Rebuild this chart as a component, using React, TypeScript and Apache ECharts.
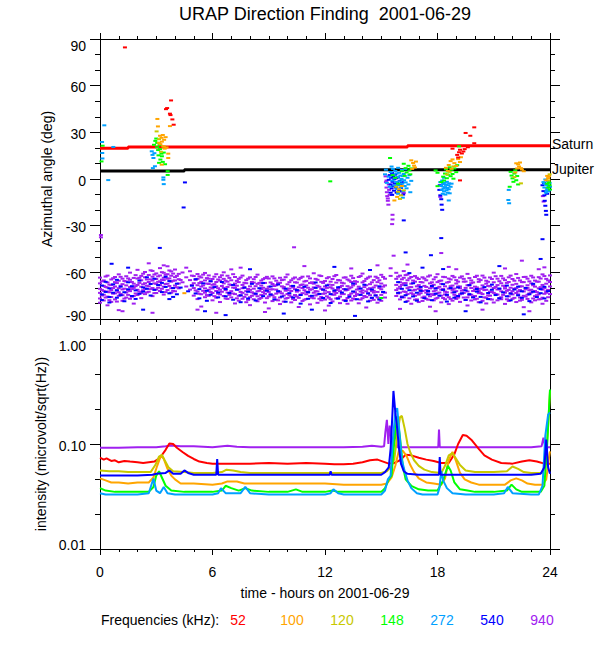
import React, { useEffect, useRef } from "react";
import * as echarts from "echarts";

const FONT = '"Liberation Sans", Arial, Helvetica, sans-serif';

const titleText = "URAP Direction Finding  2001-06-29";
const xName = "time - hours on 2001-06-29";
const yNameTop = "Azimuthal angle (deg)";
const yNameBottom = "intensity (microvolt/sqrt(Hz))";
const freqLabels = ["52", "100", "120", "148", "272", "540", "940"];
const freqColors = ["#ff0000", "#ffa500", "#c8c800", "#00ff00", "#00a0ff", "#0000ff", "#a020f0"];

// Saturn / Jupiter direction (deg)
const saturn = [[0, 19.8], [1.5, 19.8], [1.5, 20.5], [16.4, 20.5], [16.4, 21.3], [24, 21.3]];
const jupiter = [[0, 5.1], [4.5, 5.1], [4.5, 5.9], [24, 5.9]];

// purple (940 kHz) band rows: [hour, angles...]
const bandPurple = [
  [0.0, -63.4, -67.1, -70.6, -73.2, -76.8, -79.5],
  [0.2, -65.2, -68.7, -71.9, -74.4, -78.1],
  [0.4, -62.1, -66.5, -69.8, -72.3, -75.6, -81.2],
  [0.6, -64.6, -68.2, -71.4, -75.9, -79.0],
  [0.8, -63.0, -66.3, -69.1, -73.5, -77.4],
  [1.0, -61.3, -65.4, -70.2, -72.8, -75.1, -84.3],
  [1.2, -64.1, -67.6, -71.0, -74.7, -78.3],
  [1.4, -62.5, -65.9, -68.4, -73.0, -76.2],
  [1.6, -60.2, -64.8, -69.5, -72.1, -77.0],
  [1.8, -63.6, -67.3, -70.0, -75.2, -80.1],
  [2.0, -58.4, -64.0, -68.1, -71.2, -74.6],
  [2.2, -62.3, -65.1, -69.3, -73.4, -76.6],
  [2.4, -59.8, -63.2, -67.0, -70.4, -74.0],
  [2.6, -54.2, -61.7, -66.2, -69.0, -72.5],
  [2.8, -59.1, -62.8, -65.3, -70.1, -75.3],
  [3.0, -60.7, -64.3, -67.4, -71.0, -73.3],
  [3.2, -57.3, -62.0, -65.8, -68.2, -72.0],
  [3.4, -60.3, -63.5, -65.0, -69.2, -74.3],
  [3.6, -56.1, -61.2, -64.1, -67.3, -71.4],
  [3.8, -59.4, -62.2, -66.0, -70.2, -73.1],
  [4.0, -58.2, -63.1, -65.2, -68.5, -72.2],
  [4.2, -61.0, -64.4, -67.2, -70.3],
  [4.4, -60.1, -66.4],
  [4.6, -63.2, -69.1],
  [4.8, -59.3, -65.0, -71.1],
  [5.0, -62.4, -67.0, -70.1, -75.0],
  [5.2, -61.1, -64.2, -68.3, -72.4, -77.2],
  [5.4, -63.3, -66.1, -69.2, -74.1, -82.0],
  [5.6, -60.4, -65.2, -70.3, -73.1, -76.0],
  [5.8, -62.0, -64.1, -67.5, -71.2, -75.1],
  [6.0, -64.3, -68.0, -70.4, -73.3, -78.0],
  [6.2, -61.2, -66.2, -69.0, -72.0, -76.3],
  [6.4, -63.1, -65.3, -71.2, -74.2, -79.1],
  [6.6, -60.0, -64.2, -67.1, -70.0, -75.2],
  [6.8, -62.2, -66.0, -69.4, -73.0, -77.1],
  [7.0, -58.1, -65.1, -68.2, -72.1, -76.1],
  [7.2, -63.0, -67.2, -70.0, -74.0, -80.0],
  [7.4, -64.2, -66.3, -71.0, -75.1, -78.2],
  [7.6, -62.1, -68.1, -70.2, -73.2, -77.0],
  [7.8, -65.0, -67.0, -72.1, -74.3, -79.2],
  [8.0, -63.2, -69.0, -71.3, -76.0, -81.1],
  [8.2, -64.4, -66.6, -70.5, -73.6, -77.3],
  [8.4, -61.5, -67.4, -72.2, -75.4, -78.6],
  [8.6, -65.3, -68.5, -70.7, -74.5, -76.4],
  [8.8, -63.7, -66.8, -71.6, -73.8, -79.4],
  [9.0, -64.0, -69.3, -72.6, -75.5, -83.2],
  [9.2, -62.6, -67.5, -70.9, -74.8, -78.5],
  [9.4, -65.4, -68.3, -71.1, -73.7, -77.6],
  [9.6, -63.5, -66.7, -72.4, -76.2, -80.4],
  [9.8, -64.7, -69.4, -70.3, -74.9, -78.8],
  [10.0, -61.4, -67.7, -71.5, -73.9, -76.5],
  [10.2, -65.1, -68.8, -72.0, -75.7, -79.3],
  [10.4, -63.3, -66.4, -70.8, -74.6, -77.8],
  [10.6, -64.5, -69.6, -71.7, -76.4, -82.3],
  [10.8, -62.8, -67.8, -70.1, -73.4, -78.4],
  [11.0, -65.5, -68.4, -72.5, -74.1, -77.2],
  [11.2, -63.9, -66.9, -71.2, -75.3, -80.6],
  [11.4, -60.6, -67.3, -69.7, -73.1, -76.7],
  [11.6, -64.8, -68.6, -72.3, -74.2, -79.6],
  [11.8, -62.4, -66.1, -70.6, -75.8, -78.0],
  [12.0, -65.6, -69.1, -71.8, -73.5, -77.5],
  [12.2, -63.1, -67.9, -72.7, -76.3, -81.4],
  [12.4, -64.3, -68.1, -70.4, -74.3, -78.7],
  [12.6, -61.7, -66.6, -71.4, -73.3, -76.8],
  [12.8, -65.2, -69.5, -72.1, -75.6, -79.8],
  [13.0, -63.4, -67.1, -70.7, -74.0, -77.9],
  [13.2, -64.6, -68.9, -71.3, -76.5, -80.2],
  [13.4, -62.2, -66.2, -69.6, -73.6, -78.1],
  [13.6, -65.7, -67.4, -72.8, -75.2, -77.3],
  [13.8, -63.0, -69.2, -70.5, -74.4, -79.9],
  [14.0, -60.8, -66.5, -71.6, -73.2, -76.6],
  [14.2, -64.2, -68.3, -72.2, -75.9, -82.6],
  [14.4, -62.7, -67.6, -70.2, -74.7, -78.2],
  [14.6, -65.0, -69.7, -71.9, -73.0, -77.7],
  [14.8, -63.6, -66.3, -72.6, -76.1, -79.5],
  [15.0, -61.6, -67.2, -70.9, -74.5, -78.3],
  [15.2, -64.1, -68.4, -73.1, -76.2],
  [15.5, -57.4, -62.3],
  [15.8, -60.3, -64.2, -68.1, -71.4, -75.2],
  [16.0, -62.1, -66.4, -69.3, -73.0, -77.4],
  [16.2, -59.2, -63.5, -67.0, -72.3, -76.1],
  [16.4, -61.4, -65.1, -70.2, -74.0, -78.5],
  [16.6, -63.0, -67.3, -69.5, -73.4, -80.2],
  [16.8, -62.4, -66.0, -71.2, -75.1, -77.6],
  [17.0, -64.3, -68.2, -70.6, -74.3, -79.1],
  [17.2, -63.2, -66.5, -72.0, -76.2, -78.4],
  [17.4, -65.1, -69.4, -71.5, -73.1, -77.0],
  [17.6, -62.0, -67.1, -70.3, -75.4, -82.1],
  [17.8, -64.5, -68.0, -72.2, -74.6, -78.0],
  [18.0, -61.2, -66.3, -70.0, -73.5, -76.4],
  [18.2, -65.3, -67.4, -71.1, -75.0, -79.3],
  [18.4, -63.1, -69.0, -72.4, -74.2, -77.3],
  [18.6, -64.0, -66.2, -70.5, -76.0, -80.4],
  [18.8, -62.3, -68.5, -71.3, -73.0, -78.2],
  [19.0, -65.0, -67.2, -72.1, -75.3, -77.1],
  [19.2, -63.4, -69.1, -70.2, -74.1, -79.0],
  [19.4, -64.2, -66.0, -71.4, -73.3, -76.2],
  [19.6, -61.0, -68.3, -72.3, -76.1, -81.3],
  [19.8, -65.2, -67.0, -70.1, -74.4, -78.1],
  [20.0, -63.0, -69.2, -71.0, -75.2, -77.4],
  [20.2, -64.4, -66.1, -72.0, -73.4, -79.2],
  [20.4, -62.1, -68.4, -70.3, -74.0, -78.3],
  [20.6, -65.4, -67.3, -71.2, -76.3, -80.0],
  [20.8, -63.3, -69.0, -72.4, -75.0, -77.2],
  [21.0, -60.2, -66.4, -70.1, -73.2, -79.4],
  [21.2, -64.1, -68.2, -71.0, -74.3, -78.0],
  [21.4, -62.3, -67.0, -72.2, -76.0, -77.3],
  [21.6, -65.0, -69.3, -70.4, -73.1, -80.3],
  [21.8, -63.2, -66.2, -71.3, -75.4, -78.4],
  [22.0, -64.3, -68.0, -72.1, -74.2, -77.0],
  [22.2, -61.1, -67.4, -70.2, -73.3, -79.1],
  [22.4, -65.2, -69.1, -71.4, -76.2, -78.2],
  [22.6, -63.0, -66.3, -72.3, -75.1, -82.4],
  [22.8, -64.1, -68.3, -70.0, -74.4, -77.1],
  [23.0, -62.2, -67.1, -71.2, -73.0, -79.3],
  [23.2, -65.3, -69.2, -72.0, -75.3, -78.0],
  [23.4, -63.1, -66.0, -70.3, -74.1, -77.4],
  [23.6, -61.3, -68.1, -71.1, -76.3, -80.2],
  [23.8, -64.2, -67.3, -72.2, -73.1, -78.3],
  [24.0, -62.0, -66.2, -69.1, -74.0],
];

// additional purple band rows, between the ones above
const bandPurpleMid = [
  [0.1, -65.8, -71.3, -74.9], [0.3, -62.7, -69.4, -76.2], [0.5, -67.9, -72.8, -77.9], [0.7, -63.8, -70.1, -73.7],
  [0.9, -66.9, -71.8, -78.8], [1.1, -62.9, -68.6, -73.9], [1.3, -65.6, -70.5, -76.9], [1.5, -63.9, -71.7, -74.5],
  [1.7, -66.2, -70.8, -75.7], [1.9, -61.8, -68.9, -73.6], [2.1, -63.5, -66.8, -72.4], [2.3, -60.9, -67.7, -71.5],
  [2.5, -64.6, -68.6, -72.9], [2.7, -58.7, -64.5, -70.8], [2.9, -61.4, -67.1, -73.4], [3.1, -62.6, -66.1, -69.9],
  [3.3, -59.9, -64.7, -70.6], [3.5, -61.6, -67.5, -72.7], [3.7, -58.8, -63.9, -68.8], [3.9, -60.8, -65.4, -71.9],
  [4.1, -62.3, -69.6], [4.3, -64.9], [4.9, -62.1, -68.2], [5.1, -64.8, -71.6],
  [5.3, -62.6, -66.9, -73.8], [5.5, -61.5, -68.4, -71.9], [5.7, -63.7, -67.2, -74.6], [5.9, -65.8, -69.7, -72.6],
  [6.1, -62.8, -67.6, -75.3], [6.3, -64.6, -70.2, -73.7], [6.5, -61.9, -68.8, -72.5], [6.7, -65.4, -71.4, -76.8],
  [6.9, -63.6, -67.8, -74.5], [7.1, -61.2, -69.8, -73.6], [7.3, -65.5, -68.6, -76.7], [7.5, -63.3, -72.6, -74.8],
  [7.7, -66.7, -69.5, -75.8], [7.9, -64.1, -70.7, -77.7], [8.1, -66.2, -72.8, -75.1], [8.3, -63.0, -68.9, -74.2],
  [8.5, -66.8, -71.9, -77.1], [8.7, -64.4, -69.9, -72.7], [8.9, -62.9, -70.6, -76.6], [9.1, -66.5, -71.0, -74.1],
  [9.3, -63.9, -68.8, -76.0], [9.5, -66.9, -72.9, -78.0], [9.7, -65.0, -69.0, -73.5], [9.9, -63.1, -71.8, -76.9],
  [10.1, -66.3, -70.4, -74.8], [10.3, -64.0, -69.7, -77.2], [10.5, -66.6, -72.4, -75.5], [10.7, -63.6, -68.2, -74.3],
  [10.9, -65.9, -71.5, -77.6], [11.1, -62.6, -69.9, -73.0], [11.3, -66.4, -70.9, -76.3], [11.5, -64.2, -72.1, -74.9],
  [11.7, -62.0, -69.3, -77.0], [11.9, -66.8, -71.2, -73.8], [12.1, -63.8, -70.0, -75.4], [12.3, -66.0, -69.6, -77.3],
  [12.5, -62.5, -72.5, -74.4], [12.7, -64.9, -70.6, -76.5], [12.9, -66.7, -68.7, -73.9], [13.1, -63.2, -71.6, -77.8],
  [13.3, -65.3, -70.3, -74.6], [13.5, -63.7, -68.4, -76.8], [13.7, -66.1, -71.1, -74.0], [13.9, -62.4, -72.3, -77.5],
  [14.1, -65.6, -69.5, -75.2], [14.3, -63.4, -70.8, -73.4], [14.5, -66.4, -72.0, -76.4], [14.7, -62.8, -68.5, -74.7],
  [14.9, -65.1, -70.1, -77.2], [15.1, -63.0, -69.2, -72.8], [15.9, -62.8, -70.4, -73.6], [16.1, -64.5, -68.1, -75.5],
  [16.3, -61.8, -66.9, -72.6], [16.5, -63.9, -69.6, -76.7], [16.7, -65.3, -71.7, -74.1], [16.9, -63.5, -69.0, -77.4],
  [17.1, -66.2, -70.9, -73.4], [17.3, -64.0, -68.7, -75.6], [17.5, -62.7, -72.5, -77.6], [17.7, -66.4, -69.8, -74.0],
  [17.9, -63.1, -71.6, -76.9], [18.1, -65.5, -69.3, -73.0], [18.3, -62.9, -70.7, -76.5], [18.5, -66.6, -72.8, -74.9],
  [18.7, -64.6, -68.9, -77.1], [18.9, -63.2, -70.4, -74.4], [19.1, -66.0, -69.1, -76.2], [19.3, -62.6, -71.8, -73.7],
  [19.5, -65.9, -70.0, -77.8], [19.7, -63.7, -68.4, -74.6], [19.9, -66.5, -72.0, -75.9], [20.1, -62.2, -69.7, -77.0],
  [20.3, -65.0, -70.6, -73.2], [20.5, -63.4, -71.4, -76.1], [20.7, -66.1, -68.8, -74.8], [20.9, -64.3, -72.6, -77.5],
  [21.1, -62.5, -69.4, -73.9], [21.3, -65.7, -70.8, -76.6], [21.5, -63.9, -68.6, -74.5], [21.7, -66.8, -71.9, -77.3],
  [21.9, -62.1, -69.9, -73.3], [22.1, -65.4, -70.5, -76.4], [22.3, -63.6, -72.2, -74.2], [22.5, -66.3, -69.0, -77.7],
  [22.7, -62.9, -70.9, -75.6], [22.9, -65.8, -71.5, -73.6], [23.1, -63.3, -68.3, -76.8], [23.3, -66.0, -72.7, -74.7],
  [23.5, -64.0, -69.5, -77.2], [23.7, -62.4, -70.2, -73.8], [23.9, -65.2, -71.3, -76.0],
];

// blue (540 kHz) band rows
const bandBlue = [
  [0.1, -68.5, -74.2, -77.8], [0.3, -66.1, -72.6], [0.5, -70.3, -75.9, -79.4], [0.7, -67.7, -73.1],
  [0.9, -64.8, -71.5, -76.3], [1.1, -69.2, -74.7], [1.3, -72.8, -78.6], [1.5, -66.4, -70.9],
  [1.7, -68.9, -75.2], [1.9, -71.6, -77.1], [2.1, -65.3, -73.8], [2.3, -69.7, -72.4],
  [2.5, -63.2, -70.6], [2.7, -67.5, -74.9], [2.9, -64.1, -71.3], [3.1, -68.2],
  [3.3, -66.8, -72.7], [3.5, -62.9, -69.4], [3.7, -65.6, -73.5, -77.2], [3.9, -70.1, -75.8],
  [4.1, -67.3, -74.1], [4.3, -69.8], [4.7, -72.2], [4.9, -68.6],
  [5.1, -64.4, -73.6], [5.3, -70.8, -76.7], [5.5, -67.1], [5.7, -71.9, -78.3],
  [5.9, -65.7, -74.4], [6.1, -69.5], [6.3, -72.9, -76.1], [6.5, -66.2],
  [6.7, -70.7, -75.4], [6.9, -73.3], [7.1, -68.1, -77.6], [7.3, -71.2],
  [7.5, -74.8, -79.2], [7.7, -69.9], [7.9, -72.5, -76.8], [8.1, -67.4],
  [8.3, -73.7, -78.1], [8.5, -70.2], [8.7, -75.3, -66.9], [8.9, -71.8],
  [9.1, -74.3, -69.1], [9.3, -77.4], [9.5, -72.1, -67.8], [9.7, -75.6],
  [9.9, -70.5, -78.9], [10.1, -73.4], [10.3, -68.7, -76.2], [10.5, -71.4],
  [10.7, -74.6, -80.1], [10.9, -69.3], [11.1, -72.7, -77.0], [11.3, -75.1],
  [11.5, -70.0, -66.5], [11.7, -73.9], [11.9, -76.5, -71.1], [12.1, -68.4],
  [12.3, -74.0, -79.7], [12.5, -71.7], [12.7, -76.9, -69.6], [12.9, -73.0],
  [13.1, -70.9, -78.4], [13.3, -75.7], [13.5, -72.3, -67.2], [13.7, -77.3],
  [13.9, -74.5, -70.4], [14.1, -68.0], [14.3, -73.6, -78.7], [14.5, -71.0, -76.4],
  [14.7, -74.9], [14.9, -69.0, -77.5], [15.1, -72.6], [15.9, -66.3, -73.2],
  [16.1, -70.6, -76.0], [16.3, -68.3, -74.7, -79.0], [16.5, -71.5], [16.7, -67.0, -75.5],
  [16.9, -73.1, -78.2], [17.1, -69.4, -71.9], [17.3, -76.6], [17.5, -72.0, -74.2],
  [17.7, -68.8, -77.9], [17.9, -73.8, -70.3], [18.1, -75.0], [18.3, -71.3, -67.6],
  [18.5, -74.4, -78.8], [18.7, -70.1], [18.9, -72.8, -76.3], [19.1, -69.7, -75.2],
  [19.3, -73.5], [19.5, -71.6, -77.7], [19.7, -68.2, -74.0], [19.9, -76.1],
  [20.1, -72.4, -70.7], [20.3, -75.8, -79.3], [20.5, -69.5], [20.7, -73.3, -77.2],
  [20.9, -71.2, -67.9], [21.1, -74.6], [21.3, -70.4, -76.7], [21.5, -72.9],
  [21.7, -68.5, -75.4], [21.9, -73.7, -78.0], [22.1, -71.0], [22.3, -69.2, -74.8],
  [22.5, -76.4, -72.2], [22.7, -70.0], [22.9, -74.1, -78.5], [23.1, -67.4, -72.5],
  [23.3, -75.9], [23.5, -70.8, -73.4], [23.7, -76.8, -69.3], [23.9, -72.1],
];

// scattered points [hour, angle]
const dirRed = [
  [1.33, 84.6], [3.52, 44.9], [3.58, 45.6], [3.73, 42.0], [3.76, 41.1], [3.79, 50.5], [3.86, 38.3], [3.93, 34.9],
  [18.8, 19.5], [19.05, 15.5], [19.1, 13.8], [19.15, 17.2], [19.2, 18.8], [19.3, 16.4], [19.38, 17.7],
  [19.45, 19.2], [19.5, 29.6], [19.62, 20.4], [19.75, 27.8], [19.96, 33.2], [19.96, 23.0], [19.2, -0.9],
];
const dirOrange = [
  [3.06, 38.6], [3.09, 33.8], [3.73, 34.0], [3.2, 27.8], [3.28, 26.5], [3.35, 28.3], [3.42, 25.2], [3.3, 24.0],
  [3.5, 26.9], [3.22, 22.4], [3.38, 21.0], [3.64, 16.3], [3.64, 13.5], [3.29, 9.2], [3.45, 19.5], [3.55, 20.3],
  [3.14, 23.3], [16.6, 12.0], [16.7, 10.3], [16.75, 8.6], [16.85, 11.2], [16.65, 6.5], [16.8, 7.4],
  [15.95, -6.5], [15.85, -11.5], [15.7, -13.8], [16.1, -4.5], [18.45, 7.2], [18.6, 9.0], [18.7, 11.5],
  [18.8, 12.6], [18.9, 10.2], [19.0, 8.4], [19.1, 12.8], [19.2, 10.9], [18.55, 5.2], [18.75, 6.6], [19.25, 14.0],
  [22.2, 10.1], [22.3, 9.4], [22.35, 8.0], [22.4, 10.6], [22.45, 7.0], [22.5, 6.1], [22.6, 5.0], [22.25, 6.8],
  [22.15, 4.2], [23.85, 2.0], [23.9, 0.6], [23.95, 1.8], [23.8, -0.8], [4.5, -73.4],
];
const dirOlive = [
  [3.02, 30.6], [3.15, 25.6], [3.4, 20.8], [3.25, 17.5], [15.8, -5.0], [15.9, -8.2], [16.05, -10.5],
  [16.2, -7.3], [16.0, -12.8], [18.5, 3.0], [18.65, 4.6], [18.85, 8.1], [22.45, -2.8], [22.1, 1.2],
  [23.92, -0.9], [23.98, 3.0],
];
const dirGreen = [
  [0.14, 21.4], [0.08, 11.3], [2.88, 22.0], [2.95, 24.5], [3.0, 26.0], [3.05, 20.4], [3.1, 18.6], [3.12, 15.2],
  [3.18, 21.8], [3.22, 12.5], [3.3, 14.6], [3.35, 11.0], [3.4, 17.0], [3.47, 9.5], [3.2, 19.2], [3.05, 23.2],
  [3.61, 5.0], [3.61, 2.6], [3.28, 16.3], [3.15, 10.4], [12.28, -1.5], [15.47, 13.5], [15.6, 2.5],
  [15.75, 0.8], [16.2, 9.8], [16.3, 7.0], [16.35, 4.2], [16.45, 8.5], [16.5, 5.6], [16.55, 3.0], [16.6, 6.8],
  [16.25, 2.0], [15.9, -3.0], [16.1, 5.0], [17.9, 5.5], [18.0, 4.0], [18.3, 1.5], [18.35, -1.0], [18.4, 3.5],
  [18.45, 6.2], [18.5, 0.5], [18.55, 2.8], [18.6, 4.8], [18.65, 7.5], [18.7, 1.8], [18.75, 5.9], [18.8, 3.2],
  [18.85, 0.2], [18.9, 6.8], [19.0, 4.4], [19.05, 8.9], [19.15, 21.0], [18.2, -2.0], [18.0, -4.6],
  [21.9, 4.6], [21.95, 2.2], [22.0, 0.4], [22.05, -1.8], [22.1, 3.5], [22.15, 5.6], [22.2, -0.8], [22.25, 1.9],
  [22.3, -3.5], [21.85, -5.0], [23.85, -3.0], [23.9, -5.5], [23.95, -2.2], [24.0, -6.8], [23.98, -4.0],
  [15.0, -76.5],
];
const dirLightBlue = [
  [0.23, 34.5], [0.11, 23.8], [0.12, 16.7], [0.13, 13.2], [0.44, -0.7], [0.71, 20.6], [2.76, 17.8], [2.8, 15.5],
  [2.85, 13.5], [2.9, 16.6], [2.93, 8.2], [2.82, 7.0], [3.38, 1.0], [3.38, -0.5], [3.4, -3.3],
  [15.2, 3.0], [15.25, 6.0], [15.3, -2.5], [15.4, 1.5], [15.45, -5.0], [15.5, 4.5], [15.55, 8.0], [15.6, -1.0],
  [15.62, 6.5], [15.65, 2.8], [15.7, -4.2], [15.72, 0.5], [15.75, 5.2], [15.8, -2.0], [15.82, 3.6], [15.85, -6.5],
  [15.88, 1.2], [15.9, 7.2], [15.92, -3.8], [15.95, 4.0], [16.0, -1.5], [16.02, 2.2], [16.05, -5.5], [16.08, 0.0],
  [16.1, 5.8], [16.12, -3.0], [16.15, 1.8], [16.18, -7.8], [16.2, 3.2], [16.22, -0.8], [16.25, -4.5], [16.28, 6.2],
  [16.3, -2.2], [16.35, -6.0], [16.4, 0.8], [16.45, -3.5], [16.5, 2.5], [16.55, -8.5], [16.6, -1.2], [16.15, -12.0],
  [15.9, -9.5], [18.15, -2.0], [18.2, -4.5], [18.22, -7.0], [18.25, -1.0], [18.28, -9.5], [18.3, -3.2],
  [18.32, -6.0], [18.35, -8.0], [18.38, -2.5], [18.4, -5.2], [18.42, -10.0], [18.45, -3.8], [18.48, -7.2],
  [18.5, -1.8], [18.52, -5.8], [18.55, -8.8], [18.58, -4.0], [18.6, -6.6], [18.62, -2.8], [18.65, -9.2],
  [18.7, -5.0], [18.75, -3.0], [18.6, -13.8], [18.35, 0.8], [21.8, -7.0], [21.78, -13.5], [21.82, -15.6],
  [23.65, -2.0], [23.7, -5.5], [23.75, -0.3], [23.78, -8.8], [23.8, -3.8], [23.85, -6.5], [23.88, -1.5],
  [23.9, -8.0], [23.93, -4.5], [23.95, -7.2], [23.98, -2.5], [24.0, -5.0], [23.72, -3.0], [23.82, -7.5],
];
const dirBlue = [
  [15.4, -0.5], [15.45, 2.5], [15.5, -3.5], [15.52, 0.8], [15.55, -6.0], [15.58, 3.8], [15.6, -1.8], [15.63, -4.6],
  [15.65, 1.5], [15.68, -7.5], [15.7, -0.2], [15.72, -3.0], [15.75, 2.8], [15.78, -5.5], [15.8, 0.5], [15.82, -8.8],
  [15.85, -2.2], [15.88, -6.2], [15.9, 1.0], [15.92, -4.0], [15.95, -7.0], [15.98, -1.2], [16.0, -8.0],
  [16.03, -3.5], [16.06, -5.8], [16.1, -2.0], [16.17, -10.0], [16.2, -26.6], [16.3, -47.2], [15.5, -8.8],
  [15.58, -10.2], [18.1, -7.0], [18.15, -10.5], [18.2, -13.0], [18.22, -16.5], [18.25, -19.8], [18.2, -38.0],
  [17.65, -49.0], [18.3, -57.9], [18.12, -4.0], [23.6, -4.0], [23.65, -7.8], [23.7, -10.5], [23.72, -14.0],
  [23.75, -17.2], [23.78, -20.5], [23.8, -23.0], [23.68, -2.5], [23.6, -38.7], [23.5, -51.4], [23.85, -9.5],
  [4.53, -2.2], [4.46, -18.3], [3.19, -44.3], [0.62, -54.5], [2.3, -84.0], [1.5, -57.0], [5.6, -85.0],
  [9.8, -86.5], [11.3, -84.0], [13.6, -88.0], [17.2, -57.0], [19.5, -85.0], [21.3, -56.0], [22.6, -87.0],
  [8.0, -58.0], [12.5, -56.5], [14.4, -58.5], [16.5, -60.5], [6.7, -87.5],
];
const dirPurple = [
  [15.23, 1.7], [15.25, -2.0], [15.28, -5.5], [15.3, -8.5], [15.32, -11.0], [15.35, -14.0], [15.38, -16.5],
  [15.4, -3.5], [15.42, -7.0], [15.45, -10.2], [15.28, -1.0], [15.35, -12.5], [15.6, -23.0], [15.6, -26.0],
  [15.58, -29.0], [15.66, -49.3], [16.2, -9.0], [18.2, -7.0], [18.15, -11.5], [18.2, -47.6], [22.5, -52.5],
  [23.7, -56.8], [0.05, -36.0], [0.05, -37.5], [10.35, -43.9], [23.62, -11.0], [23.66, -14.5],
  [1.2, -85.0], [2.8, -86.0], [3.4, -55.5], [5.2, -84.0], [7.5, -57.0], [8.8, -85.5], [10.9, -56.0],
  [12.0, -84.5], [13.4, -57.5], [14.8, -55.5], [16.0, -83.5], [16.4, -55.0], [17.9, -85.0], [19.0, -58.0],
  [20.4, -84.0], [21.6, -57.5], [22.9, -85.0], [23.4, -58.0], [6.2, -86.0], [18.6, -56.5], [4.6, -57.0],
];

// intensity (microvolt/sqrt(Hz)) per frequency: [hour, value]
const int52 = [
  [0, 0.074], [0.2, 0.071], [0.35, 0.073], [0.6, 0.069], [0.8, 0.07], [1.0, 0.067], [1.3, 0.069], [1.6, 0.068],
  [2.0, 0.067], [2.3, 0.066], [2.6, 0.067], [2.9, 0.068], [3.2, 0.074], [3.5, 0.088], [3.7, 0.101], [3.9, 0.1],
  [4.1, 0.092], [4.4, 0.084], [4.7, 0.077], [5.0, 0.072], [5.3, 0.068], [5.7, 0.066], [6.0, 0.065], [7, 0.065],
  [8, 0.065], [9, 0.066], [10, 0.065], [11, 0.066], [12, 0.065], [12.5, 0.064], [13, 0.064], [13.5, 0.065],
  [14.0, 0.067], [14.4, 0.07], [14.8, 0.071], [15.1, 0.068], [15.4, 0.065], [15.7, 0.066], [16.0, 0.07],
  [16.3, 0.079], [16.6, 0.078], [17.0, 0.074], [17.4, 0.071], [17.8, 0.069], [18.2, 0.066], [18.6, 0.066],
  [18.9, 0.08], [19.1, 0.1], [19.35, 0.122], [19.55, 0.12], [19.8, 0.11], [20.2, 0.09], [20.5, 0.078],
  [20.9, 0.071], [21.4, 0.066], [22.0, 0.065], [22.5, 0.068], [22.9, 0.07], [23.3, 0.068], [23.7, 0.065], [24, 0.065],
];
const int100 = [
  [0, 0.047], [0.3, 0.045], [0.6, 0.043], [1, 0.043], [1.5, 0.042], [2, 0.043], [2.6, 0.043], [2.85, 0.048],
  [3.05, 0.062], [3.25, 0.078], [3.4, 0.072], [3.6, 0.058], [3.8, 0.05], [4.0, 0.046], [4.3, 0.042], [5, 0.042],
  [6, 0.041], [6.5, 0.042], [6.8, 0.044], [7.3, 0.044], [7.7, 0.042], [8, 0.042], [9, 0.042], [10, 0.042],
  [11, 0.042], [12, 0.042], [13, 0.041], [14, 0.041], [15, 0.041], [15.3, 0.042], [15.55, 0.048], [15.75, 0.062],
  [15.95, 0.088], [16.15, 0.086], [16.35, 0.077], [16.55, 0.063], [16.75, 0.054], [17.0, 0.047], [17.4, 0.043],
  [17.8, 0.042], [18.2, 0.041], [18.4, 0.047], [18.6, 0.07], [18.8, 0.084], [19.0, 0.068], [19.2, 0.053],
  [19.45, 0.046], [19.8, 0.043], [20.2, 0.041], [21, 0.041], [21.6, 0.041], [21.9, 0.045], [22.2, 0.047],
  [22.5, 0.045], [22.8, 0.042], [23.2, 0.041], [23.6, 0.041], [23.8, 0.046], [23.95, 0.075], [24, 0.085],
];
const int120 = [
  [0, 0.056], [0.5, 0.055], [1, 0.055], [1.5, 0.054], [2, 0.054], [2.7, 0.054], [2.95, 0.063], [3.15, 0.076],
  [3.3, 0.079], [3.45, 0.07], [3.65, 0.06], [3.9, 0.055], [4.5, 0.054], [5, 0.053], [6, 0.053], [6.5, 0.054],
  [6.75, 0.057], [7.1, 0.056], [7.5, 0.054], [8, 0.053], [9, 0.053], [10, 0.053], [11, 0.053], [12, 0.053],
  [13, 0.053], [14, 0.053], [15, 0.053], [15.3, 0.055], [15.5, 0.06], [15.7, 0.072], [15.85, 0.12], [16.0, 0.18],
  [16.1, 0.185], [16.25, 0.14], [16.4, 0.1], [16.55, 0.083], [16.75, 0.07], [17.0, 0.062], [17.3, 0.057],
  [17.7, 0.054], [18.2, 0.053], [18.4, 0.062], [18.6, 0.078], [18.8, 0.082], [19.0, 0.072], [19.2, 0.063],
  [19.5, 0.056], [20, 0.054], [21, 0.054], [21.7, 0.055], [22.0, 0.061], [22.3, 0.058], [22.6, 0.054],
  [23, 0.053], [23.6, 0.053], [23.75, 0.062], [23.88, 0.13], [24, 0.32],
];
const int148 = [
  [0, 0.038], [0.3, 0.036], [0.8, 0.035], [1.5, 0.035], [2, 0.035], [2.6, 0.035], [2.85, 0.039], [3.0, 0.05],
  [3.15, 0.055], [3.3, 0.048], [3.5, 0.04], [3.8, 0.036], [4.5, 0.035], [5, 0.035], [6, 0.035], [6.5, 0.036],
  [6.7, 0.04], [7.0, 0.038], [7.4, 0.036], [7.75, 0.038], [8.1, 0.036], [9, 0.035], [10, 0.035], [10.45, 0.037],
  [10.8, 0.035], [11, 0.035], [12, 0.035], [12.4, 0.036], [12.7, 0.035], [13, 0.035], [14, 0.035], [15, 0.035],
  [15.2, 0.038], [15.4, 0.046], [15.55, 0.05], [15.7, 0.11], [15.85, 0.183], [16.0, 0.115], [16.15, 0.062],
  [16.3, 0.046], [16.6, 0.04], [17.0, 0.037], [17.5, 0.036], [18.0, 0.036], [18.3, 0.045], [18.55, 0.062],
  [18.7, 0.056], [18.9, 0.043], [19.2, 0.037], [19.6, 0.036], [20, 0.035], [21, 0.035], [21.7, 0.036],
  [21.95, 0.041], [22.2, 0.037], [22.5, 0.035], [23, 0.035], [23.5, 0.035], [23.7, 0.04], [23.85, 0.1], [24, 0.33],
];
const int272 = [
  [0, 0.034], [0.3, 0.033], [1, 0.033], [2, 0.033], [2.6, 0.034], [2.85, 0.047], [3.0, 0.036], [3.2, 0.034],
  [3.4, 0.039], [3.6, 0.034], [4, 0.033], [5, 0.033], [6, 0.033], [6.3, 0.034], [6.45, 0.038], [6.7, 0.034],
  [7.5, 0.034], [7.75, 0.039], [8.0, 0.034], [9, 0.033], [10, 0.033], [11, 0.033], [12, 0.033], [12.3, 0.034],
  [12.45, 0.037], [12.7, 0.034], [13, 0.033], [14, 0.033], [15, 0.033], [15.2, 0.036], [15.35, 0.046],
  [15.5, 0.05], [15.6, 0.1], [15.75, 0.2], [15.85, 0.22], [15.95, 0.14], [16.1, 0.07], [16.25, 0.055],
  [16.4, 0.045], [16.6, 0.038], [16.9, 0.034], [17.2, 0.033], [18, 0.033], [18.1, 0.038], [18.2, 0.055],
  [18.3, 0.045], [18.5, 0.038], [18.8, 0.034], [19.5, 0.033], [20, 0.033], [21, 0.033], [21.55, 0.034],
  [21.75, 0.039], [22.0, 0.034], [23, 0.033], [23.4, 0.033], [23.6, 0.04], [23.75, 0.12], [23.9, 0.19], [24, 0.2],
];
const int540 = [
  [0, 0.05], [1, 0.05], [2, 0.05], [2.8, 0.051], [3.0, 0.052], [3.5, 0.053], [3.7, 0.056], [3.9, 0.052],
  [4.3, 0.052], [4.5, 0.056], [4.7, 0.053], [5, 0.051], [6, 0.051], [6.2, 0.051], [6.25, 0.072], [6.3, 0.051],
  [7, 0.051], [8, 0.051], [9, 0.051], [10, 0.051], [11, 0.051], [12, 0.051], [12.25, 0.051], [12.3, 0.055],
  [12.35, 0.051], [13, 0.051], [14, 0.051], [15, 0.051], [15.2, 0.054], [15.4, 0.06], [15.5, 0.09], [15.6, 0.2],
  [15.65, 0.32], [15.75, 0.2], [15.85, 0.14], [15.95, 0.09], [16.05, 0.065], [16.2, 0.055], [16.4, 0.052],
  [17, 0.051], [18, 0.051], [18.08, 0.051], [18.12, 0.075], [18.16, 0.051], [19, 0.051], [20, 0.051],
  [21, 0.051], [22, 0.051], [23, 0.051], [23.5, 0.052], [23.7, 0.06], [23.8, 0.11], [23.9, 0.06], [24, 0.052],
];
const int940 = [
  [0, 0.092], [1, 0.092], [2, 0.093], [3, 0.093], [3.5, 0.095], [3.8, 0.097], [4.3, 0.095], [5, 0.095],
  [5.5, 0.094], [6, 0.093], [6.8, 0.096], [7.3, 0.094], [8, 0.093], [9, 0.093], [10, 0.093], [11, 0.093],
  [12, 0.093], [13, 0.093], [14, 0.094], [14.5, 0.096], [15.0, 0.094], [15.15, 0.095], [15.22, 0.13],
  [15.3, 0.17], [15.38, 0.1], [15.45, 0.15], [15.55, 0.11], [15.65, 0.095], [15.75, 0.14], [15.85, 0.093],
  [16, 0.093], [17, 0.093], [18, 0.093], [18.04, 0.093], [18.08, 0.137], [18.12, 0.093], [19, 0.093],
  [20, 0.093], [21, 0.093], [22, 0.093], [23, 0.093], [23.55, 0.095], [23.65, 0.115], [23.75, 0.093], [24, 0.093],
];

function rowsToPoints(rows: number[][]): number[][] {
  const pts: number[][] = [];
  rows.forEach((r) => {
    for (let i = 1; i < r.length; i++) pts.push([r[0], r[i]]);
  });
  return pts;
}

const labelStyle = (pad: number[]) => ({ fontSize: 14, fontFamily: FONT, color: "#000", padding: pad });

function xAxis(gridIndex: number, position: string, labels: boolean) {
  return {
    type: "value",
    gridIndex,
    position,
    min: 0,
    max: 24,
    interval: 6,
    axisLine: { show: true, onZero: false, lineStyle: { color: "#000", width: 1 } },
    axisTick: { show: true, inside: false, length: 6, lineStyle: { color: "#000" } },
    minorTick: { show: true, splitNumber: 6, length: 3, lineStyle: { color: "#000" } },
    splitLine: { show: false },
    minorSplitLine: { show: false },
    axisLabel: { show: labels, color: "#000", fontSize: 14, fontFamily: FONT, margin: 16 },
    name: labels ? xName : "",
    nameLocation: "middle",
    nameGap: 37,
    nameTextStyle: { color: "#000", fontSize: 14, fontFamily: FONT },
  };
}

function scatter(name: string, data: number[][], color: string) {
  return {
    type: "scatter",
    name,
    xAxisIndex: 0,
    yAxisIndex: 0,
    data,
    symbol: "rect",
    symbolSize: [4, 2],
    itemStyle: { color, opacity: 1 },
    silent: true,
    z: 3,
  };
}

function intensity(name: string, data: number[][], color: string) {
  return {
    type: "line",
    name,
    xAxisIndex: 2,
    yAxisIndex: 2,
    data,
    showSymbol: false,
    symbol: "none",
    lineStyle: { color, width: 2 },
    silent: true,
  };
}

export default function App() {
  const ref = useRef<HTMLDivElement>(null);
  useEffect(() => {
    if (!ref.current) return;
    const chart = echarts.init(ref.current, null, { renderer: "svg" });
    const legendX = [238, 292, 342, 392, 442, 492, 542];
    const option: any = {
      animation: false,
      backgroundColor: "#ffffff",
      grid: [
        { left: 100, top: 39, width: 450, height: 280 },
        { left: 100, top: 339, width: 450, height: 210 },
      ],
      xAxis: [xAxis(0, "bottom", false), xAxis(0, "top", false), xAxis(1, "bottom", true), xAxis(1, "top", false)],
      yAxis: [
        {
          type: "value",
          gridIndex: 0,
          position: "left",
          min: -90,
          max: 90,
          interval: 30,
          axisLine: { show: true, onZero: false, lineStyle: { color: "#000" } },
          axisTick: { show: true, inside: false, length: 10, lineStyle: { color: "#000" } },
          minorTick: { show: true, splitNumber: 3, length: 5, lineStyle: { color: "#000" } },
          splitLine: { show: false },
          axisLabel: {
            margin: 14,
            formatter: (v: number) => (v === 90 ? `{t|${v}}` : v === -90 ? `{b|${v}}` : `{n|${v}}`),
            rich: { n: labelStyle([3, 0, 0, 0]), t: labelStyle([13, 0, 0, 0]), b: labelStyle([0, 0, 7, 0]) },
          },
          name: yNameTop,
          nameLocation: "middle",
          nameGap: 46,
          nameTextStyle: { color: "#000", fontSize: 14, fontFamily: FONT },
        },
        {
          type: "value",
          gridIndex: 0,
          position: "right",
          min: -90,
          max: 90,
          interval: 30,
          axisLine: { show: true, onZero: false, lineStyle: { color: "#000" } },
          axisTick: { show: true, inside: false, length: 10, lineStyle: { color: "#000" } },
          minorTick: { show: true, splitNumber: 3, length: 5, lineStyle: { color: "#000" } },
          splitLine: { show: false },
          axisLabel: { show: false },
        },
        {
          type: "log",
          gridIndex: 1,
          position: "left",
          min: 0.01,
          max: 1,
          logBase: 10,
          axisLine: { show: true, onZero: false, lineStyle: { color: "#000" } },
          axisTick: { show: true, inside: false, length: 10, lineStyle: { color: "#000" } },
          splitLine: { show: false },
          axisLabel: {
            margin: 14,
            formatter: (v: number) => {
              const s = v.toFixed(2);
              return v > 0.5 ? `{t|${s}}` : v < 0.02 ? `{b|${s}}` : `{n|${s}}`;
            },
            rich: { n: labelStyle([3, 0, 0, 0]), t: labelStyle([13, 0, 0, 0]), b: labelStyle([0, 0, 9, 0]) },
          },
          name: yNameBottom,
          nameLocation: "middle",
          nameGap: 46,
          nameTextStyle: { color: "#000", fontSize: 14, fontFamily: FONT },
        },
        {
          type: "log",
          gridIndex: 1,
          position: "right",
          min: 0.01,
          max: 1,
          logBase: 10,
          axisLine: { show: true, onZero: false, lineStyle: { color: "#000" } },
          axisTick: { show: true, inside: false, length: 10, lineStyle: { color: "#000" } },
          splitLine: { show: false },
          axisLabel: { show: false },
        },
        {
          type: "value",
          gridIndex: 1,
          position: "left",
          min: 0,
          max: 6,
          interval: 1,
          axisLine: { show: false, onZero: false },
          axisTick: { show: true, inside: false, length: 5, lineStyle: { color: "#000" } },
          splitLine: { show: false },
          axisLabel: { show: false },
        },
        {
          type: "value",
          gridIndex: 1,
          position: "right",
          min: 0,
          max: 6,
          interval: 1,
          axisLine: { show: false, onZero: false },
          axisTick: { show: true, inside: false, length: 5, lineStyle: { color: "#000" } },
          splitLine: { show: false },
          axisLabel: { show: false },
        },
      ],
      graphic: [
        {
          type: "text",
          x: 325,
          y: 14,
          style: { text: titleText, fill: "#000", fontSize: 18, fontFamily: FONT, align: "center", verticalAlign: "middle" },
        },
        {
          type: "text",
          x: 101,
          y: 620,
          style: { text: "Frequencies (kHz):", fill: "#000", fontSize: 14, fontFamily: FONT, align: "left", verticalAlign: "middle" },
        },
        ...freqLabels.map((f, i) => ({
          type: "text",
          x: legendX[i],
          y: 620,
          style: { text: f, fill: freqColors[i], fontSize: 14, fontFamily: FONT, align: "center", verticalAlign: "middle" },
        })),
      ],
      series: [
        {
          type: "line",
          name: "Saturn",
          xAxisIndex: 0,
          yAxisIndex: 0,
          data: saturn,
          showSymbol: false,
          symbol: "none",
          lineStyle: { color: "#ff0000", width: 3 },
          endLabel: { show: true, formatter: "Saturn", color: "#000", fontSize: 14, fontFamily: FONT, distance: 2, offset: [0, -2] },
          silent: true,
          z: 2,
        },
        {
          type: "line",
          name: "Jupiter",
          xAxisIndex: 0,
          yAxisIndex: 0,
          data: jupiter,
          showSymbol: false,
          symbol: "none",
          lineStyle: { color: "#000000", width: 3 },
          endLabel: { show: true, formatter: "Jupiter", color: "#000", fontSize: 14, fontFamily: FONT, distance: 2, offset: [0, -1] },
          silent: true,
          z: 2,
        },
        scatter("940 band", rowsToPoints(bandPurple), freqColors[6]),
        scatter("940 band mid", rowsToPoints(bandPurpleMid), freqColors[6]),
        scatter("940", dirPurple, freqColors[6]),
        scatter("540 band", rowsToPoints(bandBlue), freqColors[5]),
        scatter("540", dirBlue, freqColors[5]),
        scatter("272", dirLightBlue, freqColors[4]),
        scatter("148", dirGreen, freqColors[3]),
        scatter("120", dirOlive, freqColors[2]),
        scatter("100", dirOrange, freqColors[1]),
        scatter("52", dirRed, freqColors[0]),
        intensity("940 kHz", int940, freqColors[6]),
        intensity("52 kHz", int52, freqColors[0]),
        intensity("100 kHz", int100, freqColors[1]),
        intensity("120 kHz", int120, freqColors[2]),
        intensity("148 kHz", int148, freqColors[3]),
        intensity("272 kHz", int272, freqColors[4]),
        intensity("540 kHz", int540, freqColors[5]),
      ],
    };
    chart.setOption(option);
    return () => chart.dispose();
  }, []);
  return (
    <div
      ref={ref}
      style={{ position: "fixed", left: 0, top: 0, width: 600, height: 650, background: "#fff" }}
    />
  );
}
